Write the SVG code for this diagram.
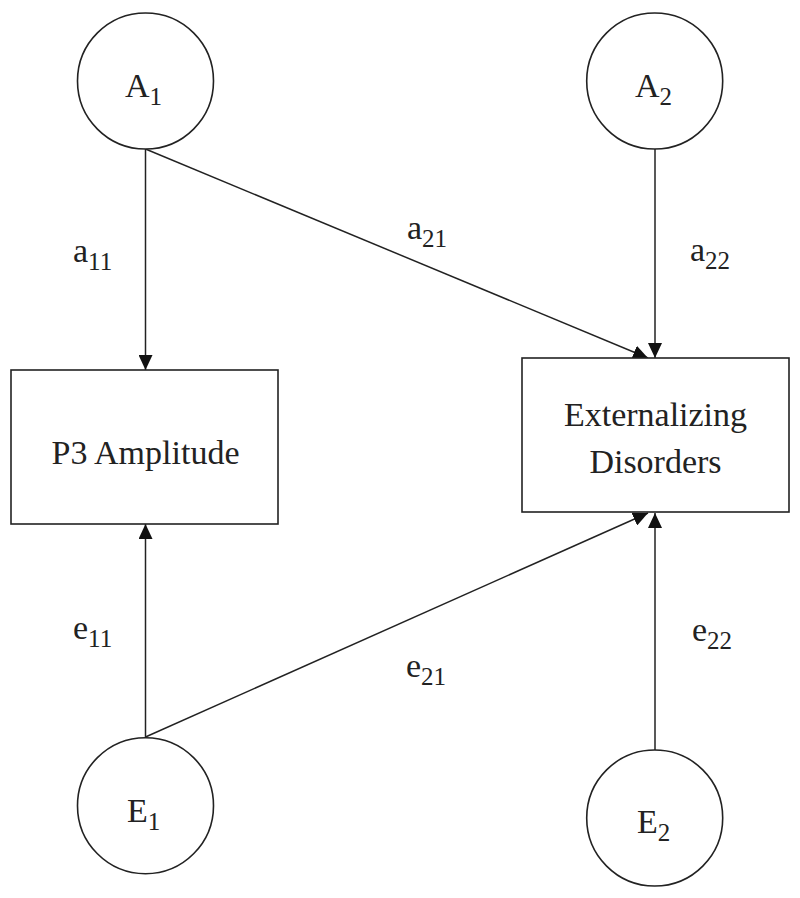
<svg xmlns="http://www.w3.org/2000/svg" width="800" height="898" viewBox="0 0 800 898">
<style>
.node{fill:#fff;stroke:#222;stroke-width:1.6}
.edge{stroke:#222;stroke-width:1.5;fill:none;marker-end:url(#arr)}
text{font-family:"Liberation Serif","Times New Roman",serif;fill:#222}
.big{font-size:34px}
.lbl{font-size:34px}
.sub{font-size:25px}
</style>
<defs>
<marker id="arr" markerUnits="userSpaceOnUse" markerWidth="15" markerHeight="14" refX="15" refY="7" orient="auto">
<path d="M0,0 L15,7 L0,14 z" fill="#111"/>
</marker>
</defs>
<rect width="800" height="898" fill="#fff"/>
<g id="connectors">
<line class="edge" x1="145.5" y1="149" x2="145.5" y2="370"/>
<line class="edge" x1="145.5" y1="149" x2="648" y2="358"/>
<line class="edge" x1="655" y1="149" x2="655" y2="358"/>
<line class="edge" x1="145.5" y1="737" x2="145.5" y2="524"/>
<line class="edge" x1="145.5" y1="737" x2="648" y2="513"/>
<line class="edge" x1="655" y1="750" x2="655" y2="513"/>
<text class="lbl" x="73" y="262">a<tspan class="sub" dy="8">11</tspan></text>
<text class="lbl" x="407" y="239">a<tspan class="sub" dy="8">21</tspan></text>
<text class="lbl" x="690" y="261">a<tspan class="sub" dy="8">22</tspan></text>
<text class="lbl" x="73" y="639">e<tspan class="sub" dy="8">11</tspan></text>
<text class="lbl" x="406" y="677">e<tspan class="sub" dy="8">21</tspan></text>
<text class="lbl" x="692" y="641">e<tspan class="sub" dy="8">22</tspan></text>
</g>
<g id="A1">
<circle class="node" cx="145.5" cy="81" r="68"/>
<text class="big" x="125" y="97">A<tspan class="sub" dy="8">1</tspan></text>
</g>
<g id="A2">
<circle class="node" cx="654.7" cy="81" r="68"/>
<text class="big" x="635" y="97">A<tspan class="sub" dy="8">2</tspan></text>
</g>
<g id="P3">
<rect class="node" x="11" y="370" width="267" height="154"/>
<text class="big" x="145.5" y="464" text-anchor="middle">P3 Amplitude</text>
</g>
<g id="EXT">
<rect class="node" x="522" y="358" width="267" height="154"/>
<text class="big" x="655.5" y="426" text-anchor="middle">Externalizing</text>
<text class="big" x="655.5" y="473" text-anchor="middle">Disorders</text>
</g>
<g id="E1">
<circle class="node" cx="145.5" cy="805.7" r="68"/>
<text class="big" x="127" y="822">E<tspan class="sub" dy="8">1</tspan></text>
</g>
<g id="E2">
<circle class="node" cx="654.7" cy="818" r="68"/>
<text class="big" x="637" y="833">E<tspan class="sub" dy="8">2</tspan></text>
</g>
</svg>
